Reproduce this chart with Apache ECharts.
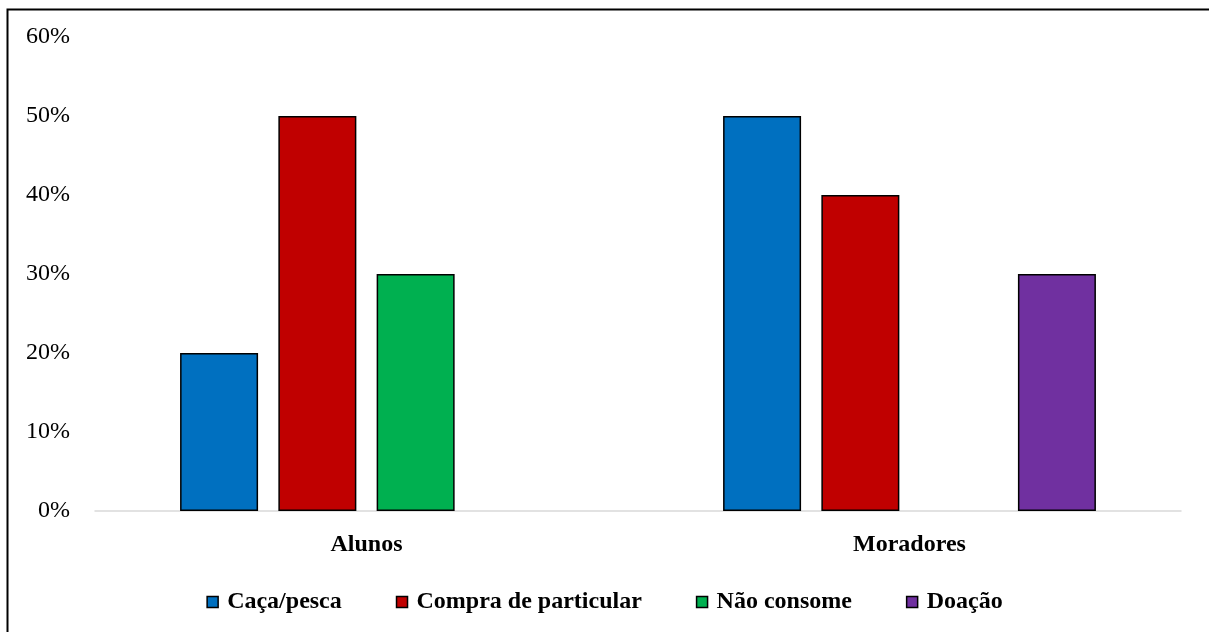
<!DOCTYPE html>
<html>
<head>
<meta charset="utf-8">
<script src="https://cdn.jsdelivr.net/npm/echarts@6/dist/echarts.min.js"></script>
<style>
  html, body { margin: 0; padding: 0; background: #fff; }
  #dom { width: 1209px; height: 632px; }
</style>
</head>
<body>
<div id="dom"></div>
<script>
var categories = ['Alunos', 'Moradores']
var seriesNames = ['Caça/pesca', 'Compra de particular', 'Não consome', 'Doação']
var colors = ['#0070C0', '#C00000', '#00B050', '#7030A0']
// percent values, null = no bar
var cacaPesca = [20, 50]
var compraParticular = [50, 40]
var naoConsome = [30, null]
var doacao = [null, 30]
var yTicks = [0, 10, 20, 30, 40, 50, 60]

var font = '"Liberation Serif", "Times New Roman", serif'
var values = [cacaPesca, compraParticular, naoConsome, doacao]

var dom = echarts.init(document.getElementById('dom'))
var option = {
  backgroundColor: '#fff',
  animation: false,
  grid: {
    left: 95,
    right: 28,
    top: 37,
    bottom: 121
  },
  legend: {
    data: seriesNames,
    bottom: 13,
    left: 'center',
    icon: 'rect',
    itemWidth: 11,
    itemHeight: 11,
    itemGap: 54,
    itemStyle: { borderColor: '#000', borderWidth: 1.5 },
    textStyle: { fontFamily: font, fontSize: 24, fontWeight: 'bold', color: '#000', padding: [0, 0, 0, 4] }
  },
  xAxis: {
    type: 'category',
    data: categories,
    axisTick: { show: false },
    axisLine: { lineStyle: { color: '#d9d9d9', width: 1.5 } },
    axisLabel: { fontFamily: font, fontSize: 24, fontWeight: 'bold', color: '#000', margin: 22 }
  },
  yAxis: {
    type: 'value',
    min: yTicks[0],
    max: yTicks[yTicks.length - 1],
    interval: 10,
    splitLine: { show: false },
    axisLine: { show: false },
    axisTick: { show: false },
    axisLabel: {
      fontFamily: font, fontSize: 24, color: '#000', margin: 25,
      formatter: function (v) { return v + '%' }
    }
  },
  series: seriesNames.map(function (name, i) {
    return {
      name: name,
      type: 'bar',
      data: values[i],
      barWidth: 78,
      barGap: '26%',
      itemStyle: { color: colors[i], borderColor: '#000', borderWidth: 1.5 }
    }
  }),
  graphic: [{
    type: 'rect',
    left: 5,
    top: 7,
    shape: { width: 1260, height: 680 },
    style: { fill: null, stroke: '#000', lineWidth: 2 },
    silent: true
  }]
}
dom.setOption(option)
</script>
</body>
</html>
